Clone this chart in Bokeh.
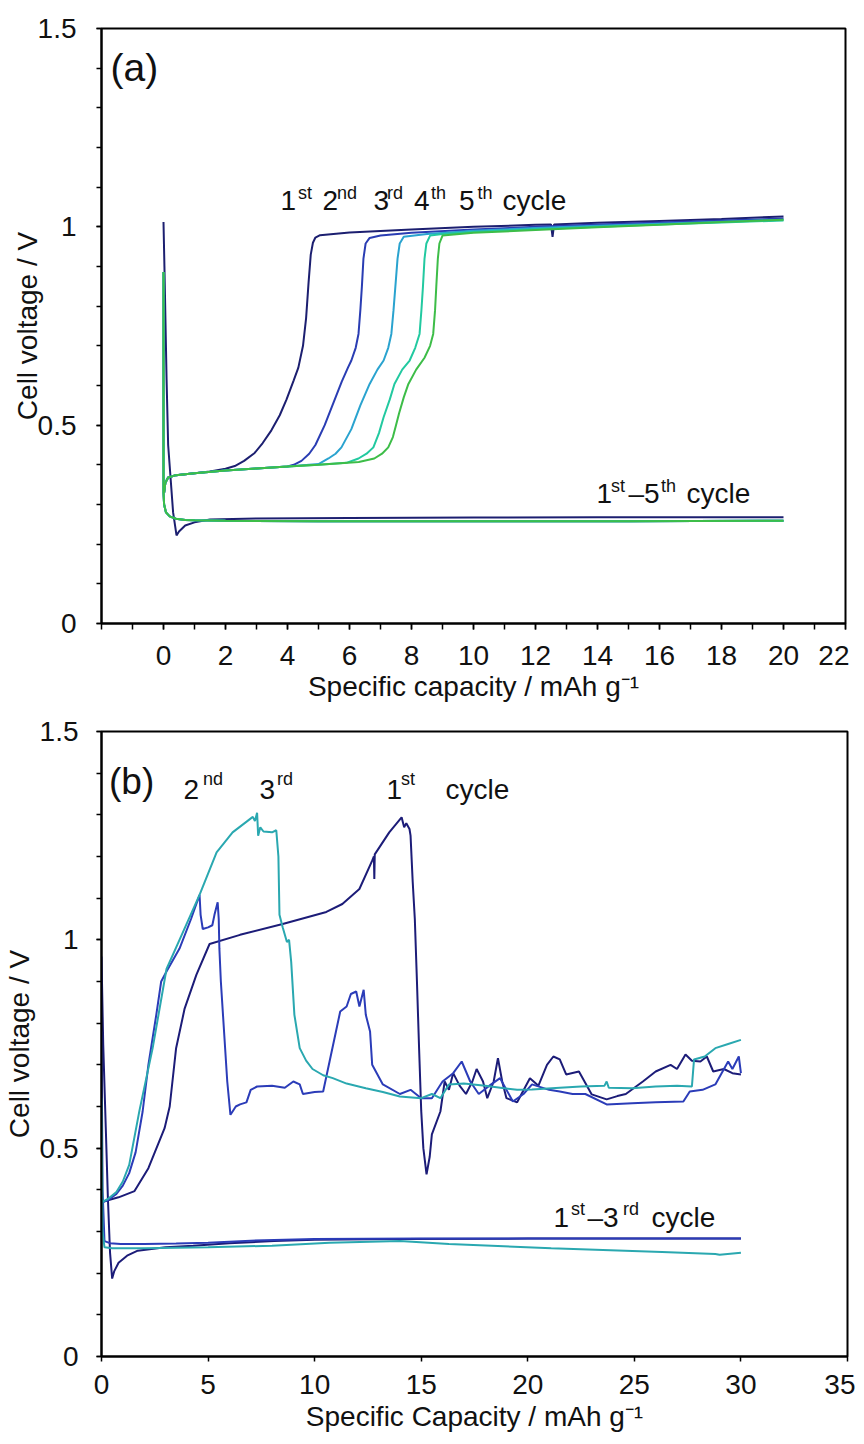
from bokeh.plotting import figure
from bokeh.models import Range1d, FixedTicker, Label
from bokeh.layouts import column
from bokeh.embed import file_html
from bokeh.resources import INLINE

FONT = "Liberation Sans"
TXT = "#111111"

# ---------------- Panel (a) data : specific capacity (mAh/g) vs cell voltage (V)
a_dis1_x = [0, 0.03, 0.1, 0.15, 0.31, 0.42, 0.5, 0.7, 1.0, 1.5, 3, 6, 10, 14, 17, 20]
a_dis1_y = [1.012, 0.90, 0.613, 0.45, 0.28, 0.222, 0.232, 0.247, 0.255, 0.262, 0.265, 0.266, 0.267, 0.268, 0.268, 0.268]
a_dis_x = [0, 0, 0.02, 0.08, 0.2, 0.4, 0.7, 1.0, 2, 5, 10, 15, 20]
a_dis_y = [0.886, 0.33, 0.30, 0.28, 0.27, 0.264, 0.261, 0.260, 0.259, 0.258, 0.258, 0.258, 0.259]

a_ch1_x = [0.02, 0.06, 0.15, 0.4, 1, 1.5, 2, 2.3, 2.6, 2.94, 3.2, 3.48, 3.75, 3.97, 4.2, 4.35, 4.5, 4.6,
           4.68, 4.75, 4.82, 4.9, 5.05, 6, 8, 10, 12, 12.5, 12.55, 12.6, 14, 16, 18, 20]
a_ch1_y = [0.33, 0.355, 0.368, 0.374, 0.379, 0.383, 0.39, 0.397, 0.41, 0.43, 0.455, 0.487, 0.525, 0.565,
           0.613, 0.645, 0.70, 0.77, 0.86, 0.93, 0.96, 0.973, 0.979, 0.986, 0.993, 1.0, 1.005, 1.006, 0.975,
           1.006, 1.01, 1.015, 1.02, 1.026]
a_ch2_x = [0.02, 0.06, 0.15, 0.4, 1, 2, 3, 4, 4.2, 4.45, 4.7, 4.9, 5.2, 5.5, 5.75, 5.95, 6.06, 6.2, 6.29,
           6.35, 6.4, 6.45, 6.52, 6.65, 7, 8, 10, 12, 14, 16, 18, 20]
a_ch2_y = [0.33, 0.355, 0.368, 0.374, 0.379, 0.386, 0.391, 0.396, 0.40, 0.41, 0.428, 0.45, 0.50, 0.56,
           0.61, 0.645, 0.663, 0.695, 0.73, 0.79, 0.85, 0.92, 0.958, 0.972, 0.978, 0.985, 0.993, 1.0,
           1.006, 1.011, 1.016, 1.021]
a_ch3_x = [0.02, 0.06, 0.15, 0.4, 1, 2, 3, 4, 5.0, 5.32, 5.55, 5.74, 6.06, 6.35, 6.65, 6.9, 7.1, 7.25,
           7.35, 7.42, 7.48, 7.55, 7.62, 7.75, 8.5, 10, 12, 14, 16, 18, 20]
a_ch3_y = [0.33, 0.355, 0.368, 0.374, 0.379, 0.386, 0.391, 0.396, 0.402, 0.416, 0.428, 0.444, 0.49,
           0.55, 0.604, 0.64, 0.663, 0.695, 0.73, 0.79, 0.85, 0.92, 0.958, 0.975, 0.982, 0.99, 0.997,
           1.003, 1.008, 1.013, 1.018]
a_ch4_x = [0.02, 0.06, 0.15, 0.4, 1, 2, 3, 4, 5, 5.9, 6.29, 6.55, 6.77, 6.95, 7.1, 7.3, 7.45, 7.7, 7.94,
           8.12, 8.26, 8.32, 8.37, 8.42, 8.48, 8.6, 9, 10, 12, 14, 16, 18, 20]
a_ch4_y = [0.33, 0.355, 0.368, 0.374, 0.379, 0.386, 0.391, 0.396, 0.40, 0.405, 0.416, 0.428, 0.444,
           0.48, 0.52, 0.565, 0.604, 0.64, 0.663, 0.695, 0.73, 0.79, 0.85, 0.92, 0.958, 0.978, 0.982,
           0.987, 0.994, 1.0, 1.006, 1.011, 1.016]
a_ch5_x = [0.02, 0.06, 0.15, 0.4, 1, 2, 3, 4, 5, 6.3, 6.8, 7.05, 7.25, 7.4, 7.5, 7.6, 7.75, 7.9, 8.15,
           8.42, 8.6, 8.7, 8.76, 8.8, 8.85, 8.9, 9.0, 10, 12, 14, 16, 18, 20]
a_ch5_y = [0.33, 0.355, 0.368, 0.374, 0.379, 0.386, 0.391, 0.396, 0.40, 0.407, 0.416, 0.428, 0.444,
           0.47, 0.50, 0.53, 0.57, 0.604, 0.64, 0.67, 0.70, 0.73, 0.79, 0.85, 0.92, 0.958, 0.978, 0.985,
           0.992, 0.999, 1.005, 1.012, 1.018]

a_colors = ["#1c1f70", "#2a3db3", "#2aa3cf", "#22c9a0", "#3dbd48"]

# ---------------- Panel (b) data
b_dis1_x = [0, 0.08, 0.2, 0.3, 0.4, 0.5, 0.6, 0.8, 1.2, 1.7, 3, 4.3, 6, 8.1, 10, 14, 20, 25, 30]
b_dis1_y = [0.96, 0.75, 0.55, 0.38, 0.25, 0.187, 0.205, 0.225, 0.242, 0.254, 0.262, 0.266, 0.272, 0.277,
            0.28, 0.282, 0.283, 0.283, 0.283]
b_dis2_x = [0, 0.05, 0.14, 0.4, 0.9, 2, 3.5, 5.0, 7, 10, 15, 20, 25, 30]
b_dis2_y = [0.78, 0.40, 0.277, 0.272, 0.27, 0.27, 0.271, 0.273, 0.278, 0.282, 0.283, 0.283, 0.283, 0.283]
b_dis3_x = [0, 0.05, 0.14, 0.5, 2, 5, 8, 10.7, 14, 16.3, 21.1, 26.3, 28.8, 29.0, 30]
b_dis3_y = [0.62, 0.30, 0.262, 0.26, 0.26, 0.262, 0.266, 0.273, 0.277, 0.27, 0.26, 0.251, 0.246, 0.244, 0.249]

b_ch1_x = [0, 0.3, 0.8, 1.55, 2.2, 2.96, 3.2, 3.5, 3.9, 4.45, 5.07, 6.5, 8.5, 10.55, 11.3, 12.1, 12.7,
           12.78, 12.8, 12.82, 13.5, 14.08, 14.2, 14.3, 14.45, 14.5, 14.6, 14.7, 14.8, 14.9, 15.0, 15.1,
           15.25, 15.4, 15.5, 15.9, 16.1, 16.3, 16.5, 16.8, 17.1, 17.4, 17.6, 17.9, 18.1, 18.4, 18.6,
           18.8, 19.0, 19.5, 20.1, 20.5, 20.9, 21.2, 21.5, 21.8, 22.4, 23.0, 23.7, 24.2, 24.6, 25.4,
           26.0, 26.7, 27.0, 27.4, 27.7, 28.1, 28.4, 28.7, 29.2, 29.6, 30.0]
b_ch1_y = [0.37, 0.375, 0.382, 0.397, 0.452, 0.548, 0.60, 0.74, 0.835, 0.916, 0.99, 1.012, 1.038, 1.067,
           1.086, 1.122, 1.19, 1.20, 1.146, 1.205, 1.258, 1.294, 1.27, 1.28, 1.266, 1.25, 1.14, 1.05, 0.90,
           0.74, 0.59, 0.50, 0.437, 0.48, 0.533, 0.588, 0.66, 0.64, 0.68, 0.65, 0.63, 0.66, 0.69, 0.66,
           0.62, 0.66, 0.716, 0.66, 0.62, 0.61, 0.668, 0.65, 0.70, 0.72, 0.713, 0.677, 0.684, 0.629, 0.617,
           0.625, 0.63, 0.66, 0.684, 0.70, 0.69, 0.725, 0.71, 0.708, 0.72, 0.684, 0.69, 0.68, 0.677]
b_ch2_x = [0, 0.3, 0.7, 1.0, 1.3, 1.6, 1.93, 2.2, 2.57, 2.8, 3.05, 3.66, 4.2, 4.6, 4.65, 4.75, 5.0, 5.2,
           5.3, 5.45, 5.5, 5.53, 5.6, 5.7, 5.9, 6.05, 6.15, 6.3, 6.5, 6.8, 7.0, 7.3, 8, 8.6, 9.0, 9.3,
           9.45, 10.0, 10.4, 10.7, 11.0, 11.2, 11.5, 11.7, 11.95, 12.1, 12.3, 12.4, 12.6, 12.7, 13.2,
           14.0, 14.5, 15.0, 15.5, 16.0, 16.5, 16.9, 17.3, 17.7, 18.2, 18.7, 19.3, 19.8, 20.2, 21.0,
           21.5, 22.1, 22.7, 23.7, 24.9, 26, 27.3, 27.6, 28.2, 28.8, 29.4, 29.6, 29.9, 30.0]
b_ch2_y = [0.37, 0.375, 0.39, 0.41, 0.44, 0.49, 0.588, 0.70, 0.82, 0.90, 0.924, 0.979, 1.05, 1.108, 1.06,
           1.026, 1.03, 1.035, 1.06, 1.09, 1.05, 0.98, 0.90, 0.82, 0.66, 0.58, 0.588, 0.60, 0.605, 0.61,
           0.64, 0.648, 0.65, 0.645, 0.66, 0.653, 0.63, 0.635, 0.636, 0.708, 0.78, 0.828, 0.84, 0.87,
           0.876, 0.84, 0.88, 0.82, 0.78, 0.70, 0.653, 0.63, 0.64, 0.62, 0.62, 0.66, 0.68, 0.708, 0.66,
           0.63, 0.65, 0.668, 0.612, 0.63, 0.653, 0.64, 0.636, 0.63, 0.63, 0.605, 0.608, 0.61, 0.612,
           0.636, 0.64, 0.653, 0.708, 0.69, 0.72, 0.68]
b_ch3_x = [0, 0.3, 0.7, 1.0, 1.3, 1.78, 2.4, 3.05, 3.66, 4.6, 5.4, 6.15, 7.1, 7.2, 7.3, 7.35, 7.45, 7.6,
           8.0, 8.2, 8.3, 8.35, 8.5, 8.7, 8.8, 8.9, 9.05, 9.3, 9.6, 9.9, 10.4, 10.85, 11.5, 12.4, 13.2,
           14.0, 15.0, 15.5, 15.9, 16.3, 17, 18, 19.5, 20.2, 21.5, 22.5, 23.6, 23.7, 23.8, 24.9, 26,
           27.0, 27.7, 27.8, 28.3, 28.8, 29.4, 30.0]
b_ch3_y = [0.37, 0.378, 0.395, 0.42, 0.46, 0.59, 0.74, 0.93, 1.0, 1.108, 1.21, 1.258, 1.295, 1.285,
           1.305, 1.25, 1.27, 1.26, 1.258, 1.263, 1.20, 1.06, 1.03, 0.995, 1.0, 0.947, 0.82, 0.74, 0.71,
           0.69, 0.675, 0.668, 0.655, 0.644, 0.635, 0.624, 0.62, 0.63, 0.62, 0.653, 0.655, 0.65, 0.64,
           0.641, 0.645, 0.648, 0.65, 0.66, 0.645, 0.644, 0.648, 0.65, 0.648, 0.713, 0.72, 0.74, 0.75, 0.76]

b_colors = ["#1c1c78", "#2b3cb8", "#2aa8b0"]

y_ticks = [0, 0.5, 1, 1.5]
y_minor = [i / 10 for i in range(16)]
y_labels = {0: "0", 0.5: "0.5", 1: "1", 1.5: "1.5"}
a_xticks = list(range(0, 23, 2))
a_xminor = list(range(-2, 23))
b_xticks = list(range(0, 36, 5))


def style(p, xt, xminor, xtick_len, y_standoff, ylab_standoff, x_standoff, xlab_standoff):
    p.xgrid.visible = False
    p.ygrid.visible = False
    p.outline_line_color = "black"
    p.outline_line_width = 2
    p.background_fill_color = "white"
    p.border_fill_color = "white"
    for ax in (p.xaxis[0], p.yaxis[0]):
        ax.axis_line_width = 2
        ax.axis_line_color = "black"
        ax.major_tick_line_color = "black"
        ax.minor_tick_line_color = "black"
        ax.major_tick_line_width = 1.5
        ax.minor_tick_line_width = 1.5
        ax.major_tick_in = 0
        ax.minor_tick_in = 0
        ax.major_label_text_font = FONT
        ax.major_label_text_font_size = "28px"
        ax.major_label_text_color = TXT
        ax.axis_label_text_font = FONT
        ax.axis_label_text_font_size = "28px"
        ax.axis_label_text_font_style = "normal"
        ax.axis_label_text_color = TXT
    xa = p.xaxis[0]
    xa.ticker = FixedTicker(ticks=xt, minor_ticks=xminor)
    xa.major_tick_out = xtick_len
    xa.minor_tick_out = xtick_len
    xa.major_label_standoff = x_standoff
    xa.axis_label_standoff = xlab_standoff
    ya = p.yaxis[0]
    ya.ticker = FixedTicker(ticks=y_ticks, minor_ticks=y_minor)
    ya.major_label_overrides = y_labels
    ya.major_tick_out = 5
    ya.minor_tick_out = 5
    ya.major_label_standoff = y_standoff
    ya.axis_label_standoff = ylab_standoff


def add_text(p, pieces, conv_x, conv_y):
    for txt, px, py, size in pieces:
        p.add_layout(Label(x=conv_x(px), y=conv_y(py), text=txt, text_font=FONT,
                           text_font_size=size, text_color=TXT, text_baseline="alphabetic",
                           text_align="left"))


# ---------------- Figure (a)
pa = figure(frame_width=744, frame_height=595, x_range=Range1d(-2, 22), y_range=Range1d(0, 1.5),
            output_backend="svg", toolbar_location=None,
            min_border_left=92, min_border_right=12, min_border_top=28, min_border_bottom=88,
            x_axis_label="Specific capacity / mAh g\u207b\u00b9", y_axis_label="Cell voltage / V")
style(pa, a_xticks, a_xminor, 6, 20, -8, 16, 3)

a_charge = [(a_ch1_x, a_ch1_y), (a_ch2_x, a_ch2_y), (a_ch3_x, a_ch3_y), (a_ch4_x, a_ch4_y), (a_ch5_x, a_ch5_y)]
for i, (cx, cy) in enumerate(a_charge):
    if i == 0:
        dx, dy = a_dis1_x, a_dis1_y
    else:
        dx, dy = a_dis_x, a_dis_y
    pa.line(x=dx, y=dy, line_color=a_colors[i], line_width=2)
    pa.line(x=cx, y=cy, line_color=a_colors[i], line_width=2)

ax_ = lambda px: (px - 162) / 31.0
ay_ = lambda py: (623 - py) / 396.67
add_text(pa, [("(a)", 109, 66.6, "39px"),
              ("1", 279, 200, "28px"), ("st", 296.5, 192, "18px"),
              ("2", 321, 200, "28px"), ("nd", 335.5, 192, "18px"),
              ("3", 372, 200, "28px"), ("rd", 385.5, 192, "18px"),
              ("4", 412.5, 200, "28px"), ("th", 429.5, 192, "18px"),
              ("5", 457.5, 200, "28px"), ("th", 476, 192, "18px"),
              ("cycle", 501, 200, "28px"),
              ("1", 595, 493, "28px"), ("st", 609.5, 485, "18px"),
              ("\u20135", 627, 493, "28px"), ("th", 659.5, 485, "18px"),
              ("cycle", 685, 493, "28px")], ax_, ay_)

# ---------------- Figure (b)
pb = figure(frame_width=746, frame_height=625, x_range=Range1d(0, 35), y_range=Range1d(0, 1.5),
            output_backend="svg", toolbar_location=None,
            min_border_left=94, min_border_right=8, min_border_top=20, min_border_bottom=86,
            x_axis_label="Specific Capacity / mAh g\u207b\u00b9", y_axis_label="Cell voltage / V")
style(pb, b_xticks, [], 5, 18, 2, 13, 4)

b_sets = [((b_dis1_x, b_dis1_y), (b_ch1_x, b_ch1_y)),
          ((b_dis2_x, b_dis2_y), (b_ch2_x, b_ch2_y)),
          ((b_dis3_x, b_dis3_y), (b_ch3_x, b_ch3_y))]
for i, ((dx, dy), (cx, cy)) in enumerate(b_sets):
    pb.line(x=dx, y=dy, line_color=b_colors[i], line_width=2)
    pb.line(x=cx, y=cy, line_color=b_colors[i], line_width=2)

bx_ = lambda px: (px - 102) / 21.314
by_ = lambda py: (1356 - py) / 418.0
add_text(pb, [("(b)", 109.5, 779, "37px"),
              ("2", 184, 787, "28px"), ("nd", 203.5, 777, "18px"),
              ("3", 260, 787, "28px"), ("rd", 277.5, 777, "18px"),
              ("1", 387, 787, "28px"), ("st", 401.5, 777, "18px"),
              ("cycle", 446, 787, "28px"),
              ("1", 554, 1217, "28px"), ("st", 571.5, 1208, "18px"),
              ("\u20133", 588, 1217, "28px"), ("rd", 623.5, 1208, "18px"),
              ("cycle", 652, 1217, "28px")], bx_, by_)

layout = column(pa, pb, spacing=0)
open("out.html", "w").write(file_html(layout, INLINE))
